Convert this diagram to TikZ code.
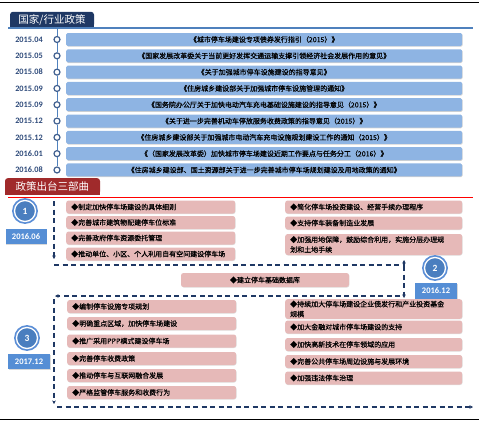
\documentclass[tikz,border=0pt]{standalone}
\usepackage{fontspec}
\setmainfont{Carlito}
\newfontfamily\cjk[FakeBold=0.35]{Noto Sans CJK SC}
\newfontfamily\cjkt{Noto Sans CJK SC}
\usetikzlibrary{arrows.meta,shadows}
\definecolor{navyc}{HTML}{1F3864}
\definecolor{tlblue}{HTML}{8EB4E3}
\definecolor{lineblue}{HTML}{4F81BD}
\definecolor{circc}{HTML}{3F5F8F}
\definecolor{datec}{HTML}{2E4A7A}
\definecolor{tabred}{HTML}{A02A2B}
\definecolor{pinkc}{HTML}{E6B9B8}
\definecolor{dboxc}{HTML}{558ED5}
\definecolor{numin}{HTML}{4A7EBF}
\definecolor{numring}{HTML}{5B8ED6}
\definecolor{dashc}{HTML}{1F3864}
\begin{document}
\begin{tikzpicture}[x=1pt,y=-1pt,
  tlbox/.style={fill=tlblue, rounded corners=1.5pt, minimum width=396pt, minimum height=13pt, inner sep=0pt, anchor=west, font=\cjk\fontsize{7}{8}\selectfont, drop shadow={shadow xshift=0.5pt, shadow yshift=-0.7pt, opacity=0.35}},
  datelbl/.style={font=\bfseries\fontsize{8.3}{9}\selectfont, text=datec, inner sep=0pt},
  tlcirc/.style={circle, draw=circc, fill=white, line width=1.2pt, minimum size=6pt, inner sep=0pt},
  numcirc/.style={circle, fill=numin, draw=white, line width=1.3pt, minimum size=21pt, inner sep=0pt, text=white, font=\bfseries\fontsize{9.5}{10}\selectfont, preaction={draw=numring, line width=4.8pt}},
  dbox/.style={fill=dboxc, text=white, font=\bfseries\fontsize{8.5}{9}\selectfont, minimum width=41pt, minimum height=15pt, inner sep=0pt, drop shadow={shadow xshift=0.8pt, shadow yshift=-1pt, opacity=0.3}},
  pbox/.style={fill=pinkc, rounded corners=2.5pt, minimum height=13pt, inner xsep=5pt, inner ysep=1.5pt, anchor=west, align=left, font=\cjk\fontsize{7}{10}\selectfont, drop shadow={shadow xshift=0.4pt, shadow yshift=-0.6pt, opacity=0.25}},
  pl/.style={pbox, text width=159pt},
  pr/.style={pbox, text width=167pt},
  tabbox/.style={rounded corners=3pt, text=white, inner sep=0pt, font=\cjkt\fontsize{10.5}{11}\selectfont},
  dpath/.style={draw=dashc, line width=1.2pt, dash pattern=on 5pt off 3.5pt, -{Stealth[length=3.5pt,width=3.5pt]}},
  dline/.style={draw=dashc, line width=1.2pt, dash pattern=on 5pt off 3.5pt}
]
\useasboundingbox (0,0) rectangle (493,423);
% black frame lines
\coordinate (bt1) at (0,2.5); \coordinate (bt2) at (479,2.5);
\coordinate (bb1) at (0,419); \coordinate (bb2) at (479,419);
\draw[line width=0.8pt] (bt1) -- (bt2);
\draw[line width=0.8pt] (bb1) -- (bb2);

% header 1
\fill[navyc] (10,20) rectangle (94,27.5);
\node[tabbox, fill=navyc, minimum width=84pt, minimum height=15.5pt] (h1) at (52,19.5) {国家/行业政策};
\coordinate (hl1) at (8,27.8); \coordinate (hl2) at (473,27.8);
\draw[lineblue, line width=1.6pt] (hl1) -- (hl2);

% timeline
\foreach \i/\d/\t in {
 1/2015.04/《城市停车场建设专项债券发行指引（2015）》,
 2/2015.05/《国家发展改革委关于当前更好发挥交通运输支撑引领经济社会发展作用的意见》,
 3/2015.08/《关于加强城市停车设施建设的指导意见》,
 4/2015.09/《住房城乡建设部关于加强城市停车设施管理的通知》,
 5/2015.09/《国务院办公厅关于加快电动汽车充电基础设施建设的指导意见（2015）》,
 6/2015.12/《关于进一步完善机动车停放服务收费政策的指导意见（2015）》,
 7/2015.12/《住房城乡建设部关于加强城市电动汽车充电设施规划建设工作的通知（2015）》,
 8/2016.01/《（国家发展改革委）加快城市停车场建设近期工作要点与任务分工（2016）》,
 9/2016.08/《住房城乡建设部、国土资源部关于进一步完善城市停车场规划建设及用地政策的通知》}{
  \pgfmathsetmacro{\yy}{39.5+16.31*(\i-1)}
  \node[tlbox] (r\i) at (66,\yy) {\t};
  \node[datelbl] (d\i) at (29,\yy) {\d};
  \node[tlcirc] (c\i) at (57,\yy) {};
}
\coordinate (tl0) at (57,28.5);
\draw[lineblue, line width=1pt] (tl0) -- (c1);
\foreach \i/\j in {1/2,2/3,3/4,4/5,5/6,6/7,7/8,8/9}{
  \draw[lineblue, line width=1pt] (c\i) -- (c\j);
}

% header 2
\fill[tabred] (5,187) rectangle (100,194.5);
\node[tabbox, fill=tabred, minimum width=95pt, minimum height=16.5pt] (h2) at (52.5,186.3) {政策出台三部曲};
\coordinate (rl1) at (8,197.5); \coordinate (rl2) at (473,197.5);
\draw[red, line width=1.8pt] (rl1) -- (rl2);

% stage 1
\node[numcirc] (n1) at (25,211) {1};
\node[dbox] (y1) at (26,236.5) {2016.06};
\node[pl] (a1) at (66,207) {◆制定加快停车场建设的具体细则};
\node[pl] (a2) at (66,222.5) {◆完善城市建筑物配建停车位标准};
\node[pl] (a3) at (66,238) {◆完善政府停车资源委托管理};
\node[pl] (a4) at (66,254) {◆推动单位、小区、个人利用自有空间建设停车场};
\node[pr] (b1) at (285,207) {◆简化停车场投资建设、经营手续办理程序};
\node[pr] (b2) at (285,223) {◆支持停车装备制造业发展};
\node[pr, minimum height=21pt] (b3) at (285,244.5) {◆加强用地保障，鼓励综合利用，实施分层办理规\\划和土地手续};

% middle
\node[pbox, anchor=center, minimum width=168pt, minimum height=14pt, align=center] (m1) at (265,280) {◆建立停车基础数据库};

% stage 2
\node[numcirc] (n2) at (435,268) {2};
\node[dbox, minimum width=42pt, minimum height=16pt] (y2) at (436,291) {2016.12};

% stage 3
\node[numcirc] (n3) at (27,338) {3};
\node[dbox, minimum width=42pt] (y3) at (29,361.5) {2017.12};
\node[pl] (e1) at (67,306.5) {◆编制停车设施专项规划};
\node[pl] (e2) at (67,323.5) {◆明确重点区域，加快停车场建设};
\node[pl] (e3) at (67,341) {◆推广采用PPP模式建设停车场};
\node[pl] (e4) at (67,358.5) {◆完善停车收费政策};
\node[pl] (e5) at (67,375.5) {◆推动停车与互联网融合发展};
\node[pl] (e6) at (67,392.5) {◆严格监管停车服务和收费行为};
\node[pr, minimum height=18pt] (f1) at (285,309) {◆持续加大停车场建设企业债发行和产业投资基金\\规模};
\node[pr] (f2) at (285,327) {◆加大金融对城市停车场建设的支持};
\node[pr] (f3) at (285,344.5) {◆加快高新技术在停车领域的应用};
\node[pr] (f4) at (285,361.5) {◆完善公共停车场周边设施与发展环境};
\node[pr] (f5) at (285,378) {◆加强违法停车治理};

% dashed flow
\coordinate (p0) at (54,201); \coordinate (p1) at (54,259);
\coordinate (p2) at (54,265); \coordinate (p3u) at (404,260);
\coordinate (p3) at (404,266); \coordinate (p4) at (404,298);
\coordinate (p5) at (400,296); \coordinate (p6) at (55,296);
\coordinate (p7) at (54,299); \coordinate (p8) at (54,404);
\coordinate (p9) at (57,407); \coordinate (p10) at (473,407);
\draw[dpath] (p0) -- (p1);
\draw[dpath] (p2) -| (p3u);
\draw[dpath] (p3) -- (p4);
\draw[dpath] (p5) -- (p6);
\draw[dpath] (p7) -- (p8);
\draw[dpath] (p9) -- (p10);
\end{tikzpicture}
\end{document}
